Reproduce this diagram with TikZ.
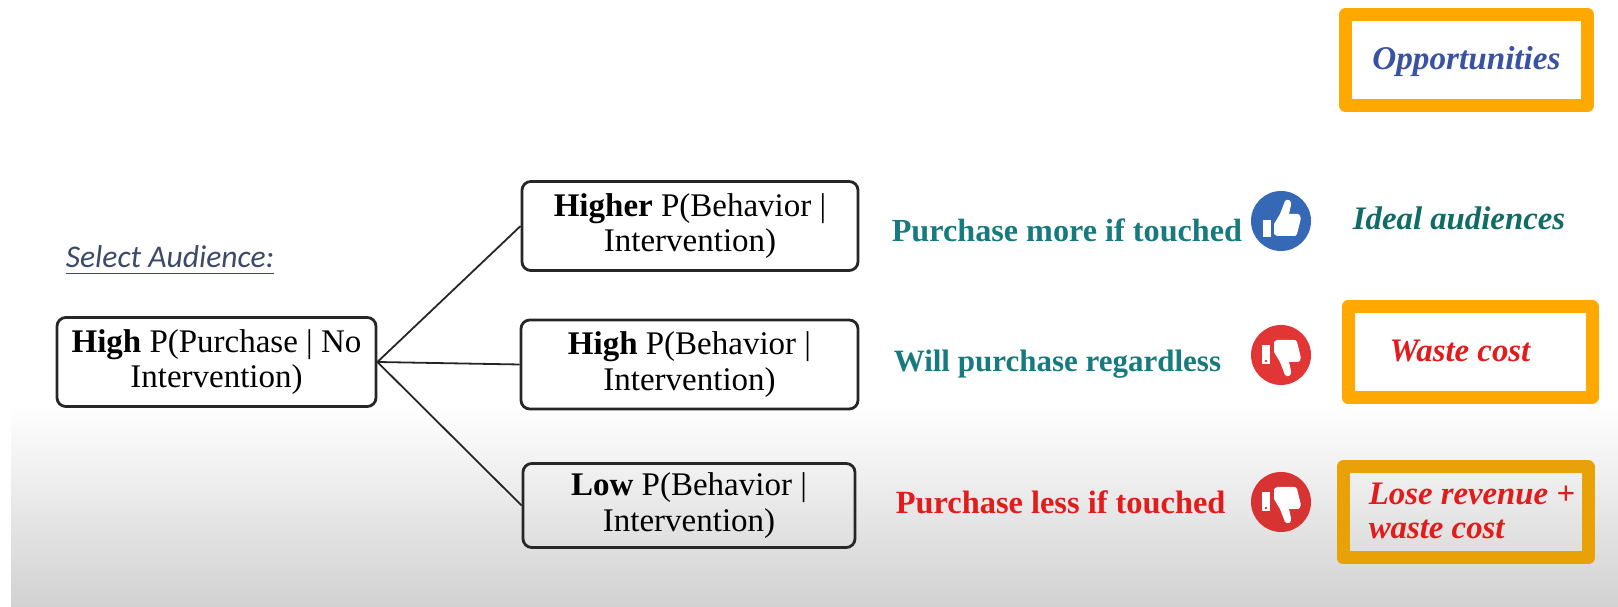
\documentclass[tikz,border=0pt]{standalone}
\usepackage{fontspec}
\setmainfont{Liberation Serif}
\newfontfamily\labelfont{Carlito}
\definecolor{framecol}{HTML}{FFA900}
\definecolor{framedark}{HTML}{E8A106}
\definecolor{tealcol}{HTML}{177A7E}
\definecolor{idealcol}{HTML}{126C66}
\definecolor{oppcol}{HTML}{3A52A4}
\definecolor{redcol}{HTML}{E21B1B}
\definecolor{thumbblue}{HTML}{3568B5}
\definecolor{thumbred}{HTML}{E23636}
\definecolor{audcol}{HTML}{3C4A68}
\tikzset{
  probbox/.style={draw=black!85, line width=0.7pt, rounded corners=2.2pt, minimum height=22.25pt, inner sep=0pt, align=center, font=\fontsize{8.25}{8.8}\selectfont},
  framebox/.style={draw=framecol, line width=3.25pt, minimum width=60.5pt, minimum height=22.75pt, inner sep=0pt},
  effect/.style={font=\fontsize{8}{9}\selectfont\bfseries, anchor=west, inner sep=0pt},
  outcome/.style={font=\fontsize{8.2}{8.5}\selectfont\bfseries\itshape, inner sep=0pt},
  badge/.style={circle, minimum size=15pt, inner sep=0pt},
  thumbhand/.pic={
    \fill[white] (-7,3)--(-1,-7)--(4,-20)..controls (7,-23) and (11,-20)..(10,-16)--(8,-7)--(17,-7)..controls (20,-6) and (20,-2)..(19,1)--(16,13)..controls (15,15) and (14,15)..(12,15)--(-4,15)--(-7,13)--cycle;
  }
}
\begin{document}
\begin{tikzpicture}[x=0.25pt, y=-0.25pt, line join=round]
\useasboundingbox (0,0) rectangle (1618,607);
\shade[top color=white, bottom color=black!18] (11,405) rectangle (1618,607);
\node[font=\fontsize{7.9}{10}\selectfont\labelfont\itshape, text=audcol, inner sep=0pt] (audience) at (170,261) {\underline{Select Audience:}};
\node[probbox, minimum width=79.75pt] (main) at (216.5,362) {\textbf{High} P(Purchase | No\\Intervention)};
\node[probbox, minimum width=84pt] (higher) at (690,226) {\textbf{Higher} P(Behavior |\\Intervention)};
\node[probbox, minimum width=84.25pt] (high) at (689.5,364.5) {\textbf{High} P(Behavior |\\Intervention)};
\node[probbox, minimum width=83pt, minimum height=21pt] (low) at (689,505.5) {\textbf{Low} P(Behavior |\\Intervention)};
\foreach \x in {higher,high,low} \draw[line width=0.45pt, black!85] (main.east)--(\x.west);
\node[effect, text=tealcol] (more) at (891,230) {\fontsize{8.05}{9}\selectfont Purchase more if touched};
\node[effect, text=tealcol] (regardless) at (893,364) {\fontsize{7.75}{9}\selectfont Will purchase regardless};
\node[effect, text=redcol] (less) at (895,502) {\fontsize{8.1}{9}\selectfont Purchase less if touched};
\node[badge, fill=thumbblue] (up) at (1281,221) {};
\node[badge, fill=thumbred] (down) at (1281,355) {};
\node[badge, fill=thumbred!95!black] (downlow) at (1281,502) {};
\pic at (up) {thumbhand};
\fill[white] ([shift={(-18,-1)}]up.center) rectangle ([shift={(-10,16)}]up.center);
\foreach \x in {down,downlow} {
  \pic[yscale=-1] at (\x) {thumbhand};
  \fill[white] ([shift={(-19,-10)}]\x.center) rectangle ([shift={(-11,9)}]\x.center);
  \fill[thumbred] ([shift={(-15,6)}]\x.center) circle(0.35pt);
}
\node[framebox] (opportunities) at (1466.5,60) {};
\node[outcome, text=oppcol, font=\fontsize{8.3}{8.5}\selectfont\bfseries\itshape] (opptext) at (1466.5,62) {Opportunities};
\node[outcome, text=idealcol] (ideal) at (1459,218) {Ideal audiences};
\node[framebox, minimum width=61pt] (waste) at (1470,352) {};
\node[outcome, text=redcol] (wastetext) at (1460,351) {Waste cost};
\node[framebox, minimum width=61.25pt, draw=framedark] (lose) at (1465.5,512.5) {};
\node[outcome, text=redcol, align=left, anchor=west] (losetext) at (1368,511) {Lose revenue +\\waste cost};
\end{tikzpicture}
\end{document}
